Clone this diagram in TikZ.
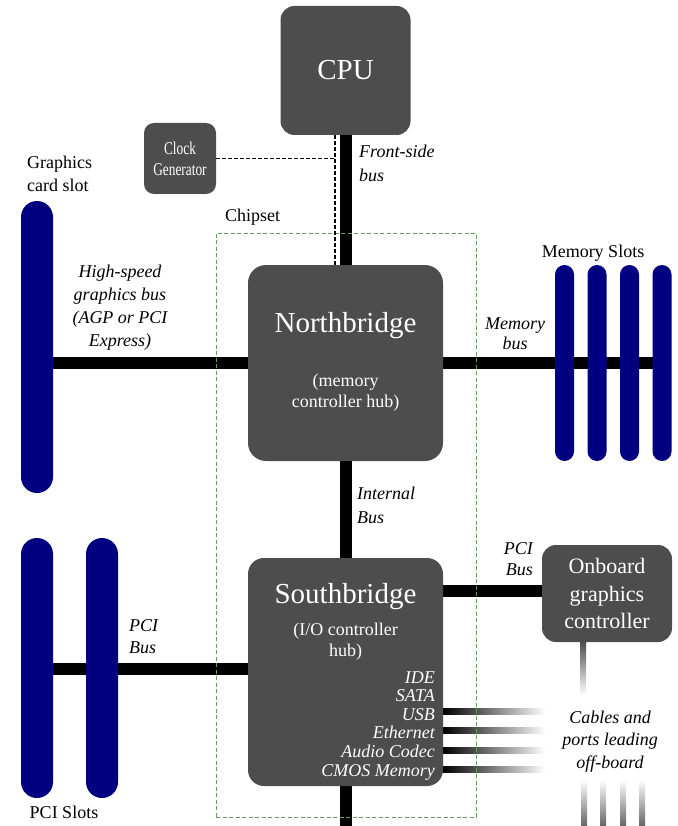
\documentclass[tikz,border=0pt]{standalone}
\usepackage{fontspec}
\usepackage{graphicx}
\setmainfont{Liberation Serif}
\usetikzlibrary{backgrounds}
\definecolor{boxgray}{RGB}{77,77,77}
\definecolor{slotblue}{RGB}{0,0,128}
\definecolor{chipgreen}{RGB}{96,160,88}
\tikzset{
  chip/.style={fill=boxgray, draw=none, rounded corners=14pt, inner sep=0pt, text=white},
  slot/.style={fill=slotblue, draw=none, inner sep=0pt},
  bus/.style={line width=12pt, draw=black},
  wtxt/.style={text=white, inner sep=0pt},
  lbl/.style={inner sep=0pt, text=black},
  clkline/.style={line width=1.3pt, dash pattern=on 4pt off 2pt},
}
\begin{document}
\begin{tikzpicture}[x=1pt, y=-1pt]
\useasboundingbox (0,0) rectangle (677,826);

% boxes
\node[chip, minimum width=130pt, minimum height=129pt, font=\fontsize{29}{34}\selectfont] (cpu) at (345.5,70.5) {CPU};
\node[chip, rounded corners=10pt, minimum width=72pt, minimum height=71pt, align=center, font=\fontsize{18}{21}\selectfont] (clk) at (180,158.5) {\scalebox{0.74}[1]{Clock}\\\scalebox{0.74}[1]{Generator}};
\node[chip, rounded corners=18pt, minimum width=195pt, minimum height=196pt] (nb) at (345.5,363) {};
\node[wtxt, font=\fontsize{29}{34}\selectfont, anchor=base] (nbt) at (345.5,332) {Northbridge};
\node[wtxt, font=\fontsize{18}{21.5}\selectfont, align=center, anchor=base] (nbs) at (345.5,407.5) {(memory\\controller hub)};
\node[chip, rounded corners=16pt, minimum width=195pt, minimum height=228pt] (sb) at (345.5,672) {};
\node[wtxt, font=\fontsize{29}{34}\selectfont, anchor=base] (sbt) at (345.5,603) {Southbridge};
\node[wtxt, font=\fontsize{18}{21}\selectfont, align=center, anchor=base] (sbs) at (345.5,656) {(I/O controller\\hub)};
\node[wtxt, font=\fontsize{18}{18.6}\selectfont\itshape, align=right, anchor=base east] (sbl) at (435,776) {IDE\\SATA\\USB\\Ethernet\\Audio Codec\\CMOS Memory};
\node[chip, minimum width=130pt, minimum height=97pt, align=center, font=\fontsize{22}{27.5}\selectfont] (ogc) at (607,593.5) {Onboard\\graphics\\controller};

% slots
\node[slot, rounded corners=16pt, minimum width=32pt, minimum height=292pt] (gslot) at (37,347) {};
\node[slot, rounded corners=16pt, minimum width=32pt, minimum height=260pt] (pci1) at (37,668) {};
\node[slot, rounded corners=16pt, minimum width=32pt, minimum height=260pt] (pci2) at (102,668) {};
\foreach \i/\x in {1/564.5,2/597,3/629.5,4/662}
  \node[slot, rounded corners=9.5pt, minimum width=19pt, minimum height=196pt] (mem\i) at (\x,363) {};

% chipset box
\node[draw=chipgreen, line width=1pt, dash pattern=on 4pt off 2.5pt, minimum width=260pt, minimum height=584pt, inner sep=0pt] (chipset) at (346,525) {};

\coordinate (sbout) at (345.5,826);

% buses
\begin{scope}[on background layer]
\draw[bus] (cpu.south) -- (nb.north);
\draw[bus] (nb.south) -- (sb.north);
\draw[bus] (sb.south) -- (sbout);
\draw[bus] (gslot.center |- nb.west) -- (nb.west);
\draw[bus] (nb.east) -- (mem4.center |- nb.east);
\draw[bus] (pci1.center |- 0,669) -- (sb.west |- 0,669);
\draw[bus] (sb.east |- 0,591) -- (ogc.west |- 0,591);
% off-board gradient lines
\foreach \y in {711,730,750,769}
  \shade[left color=black, right color=white] (443,\y-3) rectangle (545,\y+3);
\shade[top color=boxgray, bottom color=white] (580,642) rectangle (586,695);
\foreach \x in {584,603,623,642}
  \shade[top color=white, bottom color=black!60] (\x-3,780) rectangle (\x+3,826);
\end{scope}

% clock lines
\draw[clkline] (clk.east) -- (clk.east -| 335,0);
\draw[clkline] (cpu.south -| 335,0) -- (nb.north -| 335,0);

% labels
\node[lbl, font=\fontsize{18}{23}\selectfont, align=left, anchor=base west] (gsl) at (27,192) {Graphics\\card slot};
\node[lbl, font=\fontsize{18}{23}\selectfont, anchor=base west] (chl) at (225,222) {Chipset};
\node[lbl, font=\fontsize{18}{24}\selectfont\itshape, align=left, anchor=base west] (fsl) at (359,182) {Front-side\\bus};
\node[lbl, font=\fontsize{18}{23}\selectfont\itshape, align=center, anchor=base] (agl) at (120,346) {High-speed\\graphics bus\\(AGP or PCI\\Express)};
\node[lbl, font=\fontsize{18}{23}\selectfont, anchor=base] (msl) at (593,257) {Memory Slots};
\node[lbl, font=\fontsize{18}{20}\selectfont\itshape, align=center, anchor=base] (mbl) at (515,349) {Memory\\bus};
\node[lbl, font=\fontsize{18}{24}\selectfont\itshape, align=left, anchor=base west] (ibl) at (357,523) {Internal\\Bus};
\node[lbl, font=\fontsize{18}{21}\selectfont\itshape, align=right, anchor=base east] (prl) at (533,575) {PCI\\Bus};
\node[lbl, font=\fontsize{18}{22}\selectfont\itshape, align=left, anchor=base west] (pll) at (129,653) {PCI\\Bus};
\node[lbl, font=\fontsize{18}{23}\selectfont, anchor=base] (psl) at (64,818) {PCI Slots};
\node[lbl, font=\fontsize{18}{22.5}\selectfont\itshape, align=center, anchor=base] (cbl) at (610,768) {Cables and\\ports leading\\off-board};
\end{tikzpicture}
\end{document}
